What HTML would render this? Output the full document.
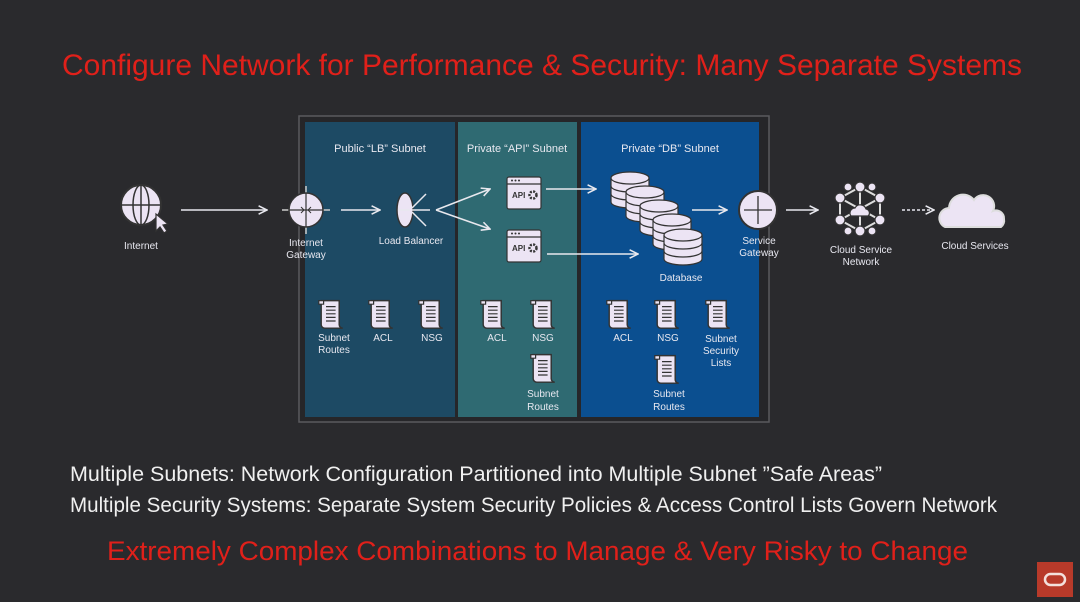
<!DOCTYPE html>
<html><head><meta charset="utf-8"><style>
html,body{margin:0;padding:0;background:#2a2a2d;}
svg{display:block;}
text{font-family:"Liberation Sans",sans-serif;}
</style></head><body>
<svg width="1080" height="602" viewBox="0 0 1080 602" xmlns="http://www.w3.org/2000/svg">
<defs>
<marker id="ah" viewBox="0 0 10 10" refX="9" refY="5" markerWidth="7" markerHeight="7" orient="auto"><path d="M1,1 L9,5 L1,9" fill="none" stroke="#e8e8ee" stroke-width="1.5"/></marker>
<g id="doc0">
<path d="M-9,-12 h15 v20 a3,3 0 0 0 3,3 h-15 a3,3 0 0 1 -3,-3 z" fill="#ece4f4" stroke="#333" stroke-width="1.2"/>
<path d="M-11,-12 h4 v3 h-4 z" fill="#ece4f4" stroke="#333" stroke-width="1"/>
<path d="M-5,-7 h8 M-5,-4 h8 M-5,-1 h8 M-5,2 h8 M-5,5 h8" stroke="#333" stroke-width="1"/>
</g>
<g id="doc"><use href="#doc0" transform="scale(1.2)"/></g>
<g id="api">
<rect x="-17" y="-16" width="34" height="32" rx="2" fill="#ece4f4" stroke="#333" stroke-width="1.2"/>
<path d="M-17,-9 h34" stroke="#333" stroke-width="1.2"/>
<circle cx="-12" cy="-12.5" r="1" fill="#333"/><circle cx="-8.5" cy="-12.5" r="1" fill="#333"/><circle cx="-5" cy="-12.5" r="1" fill="#333"/>
<text x="-12" y="5" font-size="8" font-weight="bold" fill="#333">API</text>
<circle cx="9" cy="2" r="3.5" fill="none" stroke="#333" stroke-width="2.5" stroke-dasharray="2 1.3"/>
</g>
<g id="disk">
<ellipse cx="0" cy="16" rx="19" ry="6" fill="#ece4f4" stroke="#333" stroke-width="1.2"/>
<rect x="-19" y="-8" width="38" height="24" fill="#ece4f4"/>
<path d="M-19,-8 v24 M19,-8 v24 M-19,0 a19,6 0 0 0 38,0 M-19,8 a19,6 0 0 0 38,0" fill="none" stroke="#333" stroke-width="1.2"/>
<ellipse cx="0" cy="-8" rx="19" ry="6" fill="#ece4f4" stroke="#333" stroke-width="1.2"/>
</g>
</defs>
<rect width="1080" height="602" fill="#2a2a2d"/>
<text x="62" y="75" font-size="30" fill="#e0201a" textLength="960" lengthAdjust="spacingAndGlyphs">Configure Network for Performance &amp; Security:  Many Separate Systems</text>

<rect x="299" y="116" width="470" height="306" fill="#262629" stroke="#5a5a5e" stroke-width="1.5"/>
<rect x="305" y="122" width="150" height="295" fill="#1d4a64"/>
<rect x="458" y="122" width="119" height="295" fill="#2f6a72"/>
<rect x="581" y="122" width="178" height="295" fill="#0b4f90"/>

<g font-size="11" fill="#e8e8f0" text-anchor="middle">
<text x="380" y="152">Public “LB” Subnet</text>
<text x="517" y="152">Private “API” Subnet</text>
<text x="670" y="152">Private “DB” Subnet</text>
</g>

<g stroke="#e8e8ee" stroke-width="1.5" fill="none" marker-end="url(#ah)">
<line x1="181" y1="210" x2="267" y2="210"/>
<line x1="341" y1="210" x2="380" y2="210"/>
<line x1="436" y1="210" x2="490" y2="189"/>
<line x1="436" y1="210" x2="490" y2="229"/>
<line x1="546" y1="189" x2="596" y2="189"/>
<line x1="547" y1="254" x2="638" y2="254"/>
<line x1="692" y1="210" x2="727" y2="210"/>
<line x1="786" y1="210" x2="818" y2="210"/>
<line x1="902" y1="210" x2="934" y2="210" stroke-dasharray="3 2"/>
</g>

<circle cx="141" cy="205" r="20" fill="#ece4f4" stroke="#333" stroke-width="2"/>
<ellipse cx="141" cy="205" rx="8" ry="20" fill="none" stroke="#333" stroke-width="1.5"/>
<path d="M121,205 h40 M141,185 v40" stroke="#333" stroke-width="1.5"/>
<path d="M156,214 l0,17 l4,-4 l4,6 l3,-2 l-4,-6 l5,-1 z" fill="#ece4f4" stroke="#333" stroke-width="1.2"/>

<path d="M306,186 v48 M282,210 h48" stroke="#ccc" stroke-width="1.5"/>
<circle cx="306" cy="210" r="17" fill="#ece4f4" stroke="#333" stroke-width="1.5"/>
<path d="M306,193 v34 M289,210 h34" stroke="#333" stroke-width="1.2"/>
<path d="M301,207 l3,3 l-3,3 M311,207 l-3,3 l3,3" stroke="#333" stroke-width="1" fill="none"/>

<ellipse cx="405" cy="210" rx="8" ry="17" fill="#ece4f4" stroke="#333" stroke-width="1.5"/>
<path d="M398,210 h12 M412,208 l14,-14 M412,210 h18 M412,212 l14,14" stroke="#e8e8ee" stroke-width="1.5" fill="none"/>

<use href="#api" x="524" y="193"/>
<use href="#api" x="524" y="246"/>

<use href="#disk" x="630" y="186"/>
<use href="#disk" x="645" y="200"/>
<use href="#disk" x="659" y="214"/>
<use href="#disk" x="672" y="228"/>
<use href="#disk" x="683" y="243"/>

<circle cx="758" cy="210" r="19" fill="#ece4f4" stroke="#333" stroke-width="2"/>
<path d="M758,196 v28 M744,210 h28" stroke="#333" stroke-width="1.3"/>

<g stroke="#ddd" stroke-width="2" fill="none">
<polygon points="860,187 880,198 880,220 860,231 840,220 840,198" />
<path d="M860,187 V231 M840,198 L880,220 M880,198 L840,220"/>
</g>
<g fill="#ece4f4" stroke="#333" stroke-width="1.2">
<circle cx="860" cy="187" r="5"/><circle cx="880" cy="198" r="5"/><circle cx="880" cy="220" r="5"/>
<circle cx="860" cy="231" r="5"/><circle cx="840" cy="220" r="5"/><circle cx="840" cy="198" r="5"/>
<circle cx="848" cy="187" r="4"/><circle cx="872" cy="187" r="4"/><circle cx="848" cy="231" r="4"/><circle cx="872" cy="231" r="4"/>
<path d="M851,216 a5,5 0 0 1 4,-8 a6,6 0 0 1 11,1 a4,4 0 0 1 2,7 z"/>
</g>

<path d="M945,227 a10,10 0 0 1 4,-19 a14,14 0 0 1 25,-8 a11,11 0 0 1 19,11 a8,8 0 0 1 11,8 a8,8 0 0 1 -3,8 z" fill="#ece4f4" stroke="#ddd" stroke-width="2"/>

<g font-size="10" fill="#e8e8f0" text-anchor="middle">
<text x="141" y="249">Internet</text>
<text x="306" y="246">Internet</text><text x="306" y="258">Gateway</text>
<text x="411" y="244">Load Balancer</text>
<text x="681" y="281">Database</text>
<text x="759" y="244">Service</text><text x="759" y="256">Gateway</text>
<text x="861" y="253">Cloud Service</text><text x="861" y="265">Network</text>
<text x="975" y="249">Cloud Services</text>

<text x="334" y="341">Subnet</text><text x="334" y="353">Routes</text>
<text x="383" y="341">ACL</text>
<text x="432" y="341">NSG</text>
<text x="497" y="341">ACL</text>
<text x="543" y="341">NSG</text>
<text x="543" y="397">Subnet</text><text x="543" y="410">Routes</text>
<text x="623" y="341">ACL</text>
<text x="668" y="341">NSG</text>
<text x="721" y="342">Subnet</text><text x="721" y="354">Security</text><text x="721" y="366">Lists</text>
<text x="669" y="397">Subnet</text><text x="669" y="410">Routes</text>
</g>
<use href="#doc" x="332" y="315"/>
<use href="#doc" x="382" y="315"/>
<use href="#doc" x="432" y="315"/>
<use href="#doc" x="494" y="315"/>
<use href="#doc" x="544" y="315"/>
<use href="#doc" x="544" y="369"/>
<use href="#doc" x="620" y="315"/>
<use href="#doc" x="668" y="315"/>
<use href="#doc" x="719" y="315"/>
<use href="#doc" x="668" y="370"/>

<text x="70" y="481" font-size="21" fill="#f0f0f0" textLength="812" lengthAdjust="spacingAndGlyphs">Multiple Subnets:  Network Configuration Partitioned into Multiple Subnet ”Safe Areas”</text>
<text x="70" y="512" font-size="21" fill="#f0f0f0" textLength="927" lengthAdjust="spacingAndGlyphs">Multiple Security Systems:  Separate System Security Policies &amp; Access Control Lists Govern Network</text>
<text x="107" y="560" font-size="27" fill="#e0201a" textLength="861" lengthAdjust="spacingAndGlyphs">Extremely Complex Combinations to Manage  &amp;  Very Risky to Change</text>

<rect x="1037" y="562" width="36" height="35" fill="#b83a2a"/>
<rect x="1045" y="574" width="20" height="11" rx="5.5" fill="none" stroke="#f3e0dc" stroke-width="2.5"/>
</svg>
</body></html>
